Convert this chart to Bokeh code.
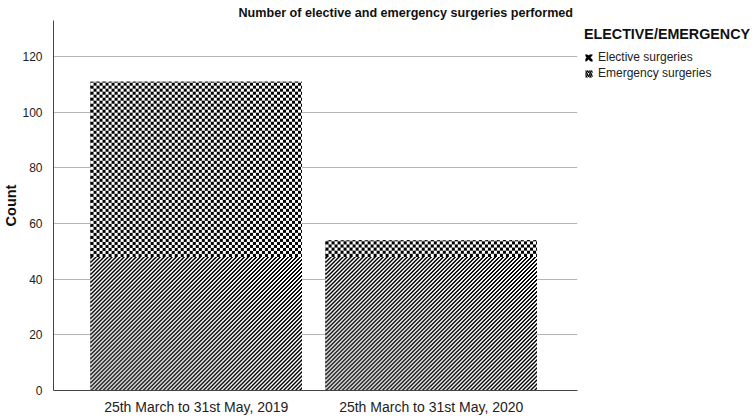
import numpy as np
from bokeh.plotting import figure
from bokeh.models import Range1d, Legend, LegendItem, FixedTicker, ColumnDataSource
from bokeh.embed import file_html
from bokeh.resources import INLINE

# ---- data ----
periods = ["25th March to 31st May, 2019", "25th March to 31st May, 2020"]
emergency = [48, 48]
elective = [63, 6]
y_ticks = [0, 20, 40, 60, 80, 100, 120]

title_text = "Number of elective and emergency surgeries performed"
legend_title = "ELECTIVE/EMERGENCY"
series_labels = ["Elective surgeries", "Emergency surgeries"]

FONT = "Liberation Sans"

# ---- layout constants ----
FRAME_W, FRAME_H = 524, 370
X_START = -0.45 - 37 / 235.0
X_END = X_START + FRAME_W / 235.0
Y_END = 133.0
BAR_W = 0.9
PX_X = FRAME_W / (X_END - X_START)
PX_Y = FRAME_H / Y_END

BLACK = np.uint32(0xFF000000)
WHITE = np.uint32(0xFFFFFFFF)


def checker(nx, ny, cell=3):
    c = np.arange(nx)[None, :] // cell
    r = np.arange(ny)[:, None] // cell
    return np.where((c + r) % 2 == 0, BLACK, WHITE).astype(np.uint32)


def stripes(nx, ny, period=4, on=2):
    c = np.arange(nx)[None, :]
    r = np.arange(ny)[:, None]
    return np.where((c - r) % period < on, BLACK, WHITE).astype(np.uint32)


xs = list(range(len(periods)))

p = figure(frame_width=FRAME_W, frame_height=FRAME_H, output_backend="svg",
           toolbar_location=None,
           x_range=Range1d(X_START, X_END), y_range=Range1d(0, Y_END))
p.min_border_left = 0
p.min_border_top = 20
p.min_border_bottom = 0
p.min_border_right = 176
p.outline_line_color = None
p.background_fill_color = "white"
p.border_fill_color = "white"

# title
p.title.text = title_text
p.title.align = "left"
p.title.offset = 185
p.title.standoff = 2
p.title.text_font = FONT
p.title.text_font_style = "bold"
p.title.text_font_size = "12.6px"
p.title.text_color = "#111111"

# grid under the bars
p.xgrid.grid_line_color = None
p.ygrid.grid_line_color = "#b4b4b4"
p.ygrid.grid_line_width = 1

# stacked bars (hatched, also used for the legend key)
src = ColumnDataSource(dict(x=xs, emergency=emergency, elective=elective))
bars = p.vbar_stack(["emergency", "elective"], x="x", width=BAR_W, source=src,
                    fill_color="white", line_color=None, hatch_color="black",
                    hatch_pattern=["right_diagonal_line", "diagonal_cross"],
                    hatch_scale=[4, 8], hatch_weight=[1.5, 2.8])

# crisp pattern fills drawn over the same bars, placed by the data
em_imgs, em_x, em_y, em_dw, em_dh = [], [], [], [], []
el_imgs, el_x, el_y, el_dw, el_dh = [], [], [], [], []
for i, (em, el) in enumerate(zip(emergency, elective)):
    nx = int(round(BAR_W * PX_X))
    em_imgs.append(stripes(nx, max(1, int(round(em * PX_Y)))))
    em_x.append(xs[i] - BAR_W / 2); em_y.append(0); em_dw.append(BAR_W); em_dh.append(em)
    el_imgs.append(checker(nx, max(1, int(round(el * PX_Y)))))
    el_x.append(xs[i] - BAR_W / 2); el_y.append(em); el_dw.append(BAR_W); el_dh.append(el)

p.image_rgba(image=em_imgs, x=em_x, y=em_y, dw=em_dw, dh=em_dh)
p.image_rgba(image=el_imgs, x=el_x, y=el_y, dw=el_dw, dh=el_dh)

# axes
p.xaxis.ticker = FixedTicker(ticks=xs)
p.xaxis.major_label_overrides = {x: lab for x, lab in zip(xs, periods)}
p.yaxis.ticker = FixedTicker(ticks=y_ticks)
p.yaxis.axis_label = "Count"
p.yaxis.axis_label_text_font = FONT
p.yaxis.axis_label_text_font_style = "bold"
p.yaxis.axis_label_text_font_size = "14.5px"
p.yaxis.axis_label_text_color = "#111111"
p.yaxis.axis_label_standoff = 0
for ax in (p.xaxis[0], p.yaxis[0]):
    ax.axis_line_color = "#444444"
    ax.axis_line_width = 1
    ax.major_tick_line_color = None
    ax.minor_tick_line_color = None
    ax.major_label_text_font = FONT
    ax.major_label_text_color = "#222222"
p.yaxis.major_label_text_font_size = "12px"
p.yaxis.major_label_standoff = 5
p.xaxis.major_label_text_font_size = "14px"
p.xaxis.major_label_standoff = 2

legend = Legend(items=[LegendItem(label=series_labels[0], renderers=[bars[1]]),
                       LegendItem(label=series_labels[1], renderers=[bars[0]])],
                title=legend_title,
                location=(7, 310), orientation="vertical",
                padding=0, margin=0, spacing=2,
                glyph_width=9, glyph_height=9, label_height=13,
                label_standoff=5,
                title_text_font=FONT, title_text_font_style="bold",
                title_text_font_size="14.3px", title_text_color="#111111",
                title_standoff=8,
                label_text_font=FONT, label_text_font_size="12px",
                label_text_color="#222222",
                border_line_color=None, background_fill_alpha=0)
p.add_layout(legend, "right")

open("out.html", "w").write(file_html(p, INLINE))
